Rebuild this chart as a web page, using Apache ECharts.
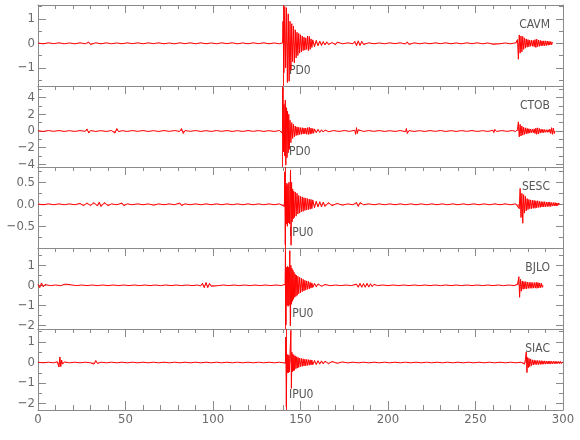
<!DOCTYPE html>
<html>
<head>
<meta charset="utf-8">
<script src="https://cdn.jsdelivr.net/npm/echarts@6/dist/echarts.min.js"></script>
<style>html,body{margin:0;padding:0;background:#fff}#c{width:580px;height:440px}</style>
</head>
<body>
<div id="c"></div>
<script>
// ---- data (time in s, amplitude) ----
const stations = ['CAVM', 'CTOB', 'SESC', 'BJLO', 'SIAC'];
const pickTimes = [140.2, 139.6, 141.0, 141.4, 141.6];
const pickLabels = ['PD0', 'PD0', 'IPU0', 'IPU0', 'IPU0'];
const xTicks = [0, 50, 100, 150, 200, 250, 300];
const yMin = [-1.743, -4.32, -0.993, -2.185, -2.31];
const yMax = [1.563, 5.4, 0.848, 1.865, 1.63];
const yMajor = [[-1, 0, 1], [-4, -2, 0, 2, 4], [-0.5, 0, 0.5], [-2, -1, 0, 1], [-2, -1, 0, 1]];
const yMinor = [[-1.5, -0.5, 0.5, 1.5], [-3, -1, 1, 3, 5], [-0.75, -0.25, 0.25, 0.75], [-1.5, -0.5, 0.5, 1.5], [-1.5, -0.5, 0.5, 1.5]];

const CAVM = [
[0,0.01],[3,-0.02],[6,0.02],[9,-0.015],[12,0.02],[15,-0.02],[18,0.015],[21,-0.02],[24,0.02],[27,-0.02],[29,0.05],[30,-0.05],[33,0.02],[36,-0.02],[39,0.02],[42,-0.02],[45,0.015],[48,-0.02],[51,0.02],[54,-0.015],[57,0.02],[60,-0.02],[63,0.02],[66,-0.015],[69,0.02],[72,-0.02],[75,0.015],[78,-0.02],[81,0.02],[84,-0.015],[87,0.02],[90,-0.02],[93,0.02],[96,-0.02],[99,0.015],[102,-0.02],[105,0.02],[108,-0.015],[111,0.02],[114,-0.02],[117,0.015],[120,-0.02],[123,0.02],[126,-0.015],[129,0.02],[132,-0.02],[135,0.015],[138,-0.02],[139.8,0.02],
[140,0.9],[140.5,-1.2],[141,1.5],[141.5,-1.0],[142,1.45],[142.5,-1.6],[143,1.2],[143.5,-1.55],[144,0.9],[144.5,-1.1],[145,0.8],[145.5,-0.75],[146,0.7],[146.5,-0.8],[147,0.55],[147.5,-0.6],[148,0.45],[148.5,-0.5],[149,0.4],[149.5,-0.4],[150,0.35],[150.5,-0.35],[151,0.3],[151.5,-0.3],[152,0.25],[152.5,-0.28],[153,0.22],[153.5,-0.25],[154,0.3],[154.5,-0.3],[155,0.28],[155.5,-0.25],[156,0.18],[156.5,-0.17],[157,0.14],[158,-0.14],[159,0.12],[160,-0.1],[161,0.09],[162,-0.09],[163,0.07],[164,-0.07],[165,0.06],[166,-0.05],
[168,0.03],[170,-0.06],[171,0.05],[174,-0.02],[177,0.02],[180,-0.02],[181,0.08],[182,-0.1],[183,0.1],[184,-0.09],[185,0.08],[186,-0.05],[189,0.02],[192,-0.02],[195,0.015],[198,-0.02],[201,0.02],[204,-0.015],[207,0.02],[210,-0.03],[211,0.06],[212,-0.05],[215,0.02],[218,-0.02],[221,0.015],[224,-0.02],[227,0.02],[230,-0.015],[233,0.02],[236,-0.02],[239,0.015],[242,-0.02],[245,0.02],[248,-0.015],[251,0.02],[254,-0.02],[257,0.015],[260,-0.04],[261,0.04],[264,-0.02],[267,0.015],[270,-0.02],[273,0.02],
[274,0.15],[274.5,-0.65],[275,0.34],[275.5,-0.4],[276,0.3],[276.5,-0.35],[277,0.28],[277.5,-0.25],[278,0.22],[278.5,-0.2],[279,0.18],[279.5,-0.16],[280,0.15],[280.5,-0.14],[281,0.13],[281.5,-0.12],[282,0.12],[282.5,-0.12],[283,0.12],[283.5,-0.14],[284,0.15],[284.5,-0.17],[285,0.17],[285.5,-0.14],[286,0.13],[286.5,-0.12],[287,0.12],[287.5,-0.11],[288,0.1],[288.5,-0.1],[289,0.1],[289.5,-0.1],[290,0.1],[290.5,-0.09],[291,0.09],[291.5,-0.08],[292,0.08],[292.5,-0.07],[293,0.07],[293.5,-0.06],[294,0.05]
];

const CTOB = [
[0,0.03],[3,-0.05],[6,0.05],[9,-0.04],[12,0.05],[15,-0.05],[18,0.04],[21,-0.05],[24,0.05],[27,-0.04],[28,0.25],[29,-0.25],[30,0.05],[33,-0.05],[36,0.04],[39,-0.05],[42,0.05],[44,-0.25],[45,0.3],[46,-0.08],[48,0.04],[51,-0.05],[54,0.05],[57,-0.04],[60,0.05],[63,-0.05],[66,0.04],[69,-0.05],[72,0.05],[75,-0.04],[78,0.05],[81,-0.05],[82,0.3],[83,-0.3],[84,0.05],[87,-0.04],[90,0.05],[93,-0.05],[96,0.04],[99,-0.05],[102,0.05],[105,-0.04],[108,0.05],[111,-0.05],[114,0.04],[117,-0.05],[120,0.05],[123,-0.04],[126,0.05],[129,-0.05],[132,0.04],[135,-0.05],[138,0.05],[139.8,-0.3],
[140,5.1],[140.3,-2.5],[140.6,3.2],[141,-3.0],[141.3,3.7],[141.6,-4.1],[142,2.8],[142.3,-3.2],[142.6,2.4],[143,-2.6],[143.3,2.0],[143.6,-2.2],[144,1.3],[144.5,-1.4],[145,1.0],[145.5,-0.9],[146,0.8],[146.5,-0.7],[147,0.6],[147.5,-0.55],[148,0.5],[148.5,-0.5],[149,0.45],[149.5,-0.42],[150,0.4],[150.5,-0.4],[151,0.4],[151.5,-0.36],[152,0.35],[152.5,-0.35],[153,0.35],[153.5,-0.38],[154,0.4],[154.5,-0.42],[155,0.45],[155.5,-0.38],[156,0.35],[156.5,-0.32],[157,0.3],[157.5,-0.27],[158,0.25],[159,-0.2],[160,0.2],[161,-0.17],[162,0.15],[163,-0.13],[164,0.12],[166,-0.08],[169,0.05],[172,-0.05],[175,0.05],[178,-0.04],[181,0.08],[181.5,-0.4],[182,0.4],[182.5,-0.3],[183,0.15],[186,-0.05],[189,0.05],[192,-0.04],[195,0.05],[198,-0.05],[201,0.04],[204,-0.05],[207,0.05],[210,-0.08],[210.5,0.3],[211,-0.3],[212,0.05],[215,-0.05],[218,0.04],[221,-0.05],[224,0.05],[227,-0.04],[230,0.05],[233,-0.05],[236,0.04],[239,-0.05],[242,0.05],[245,-0.04],[248,0.05],[251,-0.05],[254,0.04],[257,-0.05],[260,0.08],[260.5,-0.2],[261,0.2],[262,-0.05],[265,0.05],[268,-0.04],[271,0.05],[273,-0.05],
[274,0.2],[274.5,1.1],[275,-0.7],[275.5,0.8],[276,-0.6],[276.5,0.6],[277,-0.5],[277.5,0.45],[278,-0.4],[278.5,0.38],[279,-0.35],[279.5,0.32],[280,-0.3],[280.5,0.27],[281,-0.25],[281.5,0.22],[282,-0.2],[282.5,0.2],[283,-0.2],[283.5,0.25],[284,-0.3],[284.5,0.35],[285,-0.4],[285.5,0.38],[286,-0.35],[286.5,0.3],[287,-0.25],[287.5,0.22],[288,-0.2],[288.5,0.2],[289,-0.2],[289.5,0.17],[290,-0.15],[290.5,0.15],[291,-0.15],[291.5,0.15],[292,-0.15],[292.5,0.22],[293,-0.3],[293.5,0.4],[294,-0.4],[294.5,0.35],[295,-0.3],[295.5,0]
];

const SESC = [
[0,0.005],[3,-0.01],[6,0.01],[9,-0.01],[12,0.01],[15,-0.01],[18,0.01],[21,-0.01],[24,0.02],[26,-0.03],[28,0.03],[30,-0.03],[32,0.04],[34,-0.04],[35,0.05],[36,-0.05],[38,0.04],[40,-0.03],[42,0.01],[45,-0.01],[48,0.03],[49,-0.03],[51,0.01],[54,-0.01],[57,0.01],[60,-0.01],[63,0.01],[66,-0.02],[69,0.01],[72,-0.01],[75,0.01],[78,-0.01],[81,0.03],[82,-0.03],[84,0.01],[87,-0.01],[90,0.01],[93,-0.01],[96,0.01],[99,-0.01],[102,0.01],[105,-0.01],[108,0.01],[111,-0.01],[114,0.01],[117,-0.01],[120,0.01],[123,-0.01],[126,0.01],[129,-0.01],[132,0.01],[135,-0.01],[138,0.01],[140.8,-0.05],
[141,0.74],[141.3,-0.92],[141.6,0.4],[141.9,-0.45],[142.2,0.48],[142.5,-0.5],[142.8,0.45],[143.1,-0.42],[143.4,0.5],[143.8,-0.45],[144.3,0.78],[144.6,-0.93],[144.9,0.5],[145.2,-0.4],[145.5,0.35],[145.8,-0.33],[146.1,0.3],[146.5,-0.3],[147,0.28],[147.5,-0.27],[148,0.25],[148.5,-0.22],[149,0.2],[149.5,-0.2],[150,0.18],[150.5,-0.17],[151,0.17],[151.5,-0.16],[152,0.15],[152.5,-0.14],[153,0.14],[153.5,-0.13],[154,0.13],[154.5,-0.12],[155,0.12],[155.5,-0.11],[156,0.11],[156.5,-0.1],[157,0.1],[158,-0.08],[159,0.07],[160,-0.06],[161,0.06],[162,-0.06],[163,0.05],[164,-0.05],[166,0.04],[168,-0.03],[171,0.02],[174,-0.02],[177,0.01],[180,-0.01],[182,0.04],[183,-0.05],[184,0.04],[186,-0.01],[189,0.01],[192,-0.01],[195,0.01],[198,-0.01],[201,0.01],[204,-0.01],[207,0.01],[210,-0.01],[213,0.01],[216,-0.01],[219,0.01],[222,-0.01],[225,0.01],[228,-0.01],[231,0.01],[234,-0.01],[237,0.01],[240,-0.01],[243,0.01],[246,-0.01],[249,0.01],[252,-0.01],[255,0.01],[258,-0.01],[261,0.01],[264,-0.01],[267,0.01],[270,-0.01],[273,0.01],
[275,-0.1],[275.5,0.36],[276,-0.3],[276.5,0.25],[277,-0.43],[277.5,0.22],[278,-0.2],[278.5,0.18],[279,-0.15],[279.5,0.13],[280,-0.12],[280.5,0.11],[281,-0.1],[281.5,0.1],[282,-0.1],[282.5,0.09],[283,-0.09],[283.5,0.09],[284,-0.09],[284.5,0.08],[285,-0.08],[285.5,0.08],[286,-0.07],[286.5,0.07],[287,-0.07],[287.5,0.06],[288,-0.06],[288.5,0.06],[289,-0.06],[289.5,0.06],[290,-0.06],[290.5,0.05],[291,-0.05],[291.5,0.05],[292,-0.05],[292.5,0.05],[293,-0.05],[293.5,0.04],[294,-0.04],[294.5,0.04],[295,-0.04],[295.5,0.04],[296,-0.04],[296.5,0.03],[297,-0.03],[297.5,0.03],[298,0]
];

const BJLO = [
[0,0.05],[1,-0.12],[2,0.12],[3,-0.08],[4,0.04],[7,-0.015],[10,0.015],[13,-0.02],[15,0.05],[16,-0.05],[17,0.05],[18,-0.04],[19,0.02],[22,-0.015],[25,0.015],[28,-0.015],[31,0.015],[34,-0.015],[37,0.015],[40,-0.015],[43,0.015],[46,-0.015],[49,0.015],[52,-0.015],[55,0.015],[58,-0.015],[61,0.015],[64,-0.015],[67,0.015],[70,-0.015],[73,0.015],[76,-0.015],[79,0.015],[82,-0.015],[85,0.015],[88,-0.015],[91,0.015],[93,-0.03],[94,0.1],[95,-0.12],[96,0.14],[97,-0.12],[98,0.1],[99,-0.05],[100,0.015],[103,-0.015],[106,0.015],[109,-0.015],[112,0.015],[115,-0.015],[118,0.015],[121,-0.015],[124,0.015],[127,-0.015],[130,0.015],[133,-0.015],[136,0.015],[139,-0.015],[141.2,0.05],
[141.4,1.68],[141.7,-1.98],[142,0.9],[142.3,-1.0],[142.6,0.95],[142.9,-1.05],[143.2,0.9],[143.5,-1.0],[143.9,1.73],[144.2,-2.03],[144.5,1.0],[144.8,-0.95],[145.1,0.85],[145.4,-0.8],[145.7,0.75],[146,-0.7],[146.3,0.65],[146.7,-0.6],[147,0.55],[147.4,-0.55],[147.7,0.5],[148.1,-0.5],[148.5,0.45],[149,-0.42],[149.5,0.4],[150,-0.38],[150.5,0.35],[151,-0.32],[151.5,0.3],[152,-0.28],[152.5,0.25],[153,-0.24],[153.5,0.22],[154,-0.2],[154.5,0.2],[155,-0.18],[155.5,0.15],[156,-0.14],[156.5,0.12],[157,-0.11],[158,0.1],[159,-0.08],[160,0.07],[162,-0.05],[164,0.04],[167,-0.02],[170,0.015],[173,-0.015],[176,0.015],[179,-0.015],[182,0.06],[183,-0.1],[184,0.1],[185,-0.1],[186,0.09],[187,-0.1],[188,0.1],[189,-0.09],[190,0.08],[191,-0.07],[192,0.05],[194,-0.015],[197,0.015],[200,-0.015],[203,0.015],[206,-0.015],[209,0.015],[212,-0.015],[215,0.015],[218,-0.015],[221,0.015],[224,-0.015],[227,0.015],[230,-0.015],[233,0.015],[236,-0.015],[239,0.015],[242,-0.015],[245,0.015],[248,-0.015],[251,0.015],[254,-0.015],[257,0.015],[260,-0.015],[263,0.015],[266,-0.015],[269,0.015],[272,-0.015],[274,0.05],
[274.8,0.43],[275.2,-0.6],[275.7,0.3],[276.2,-0.3],[276.7,0.22],[277.2,-0.2],[277.7,0.19],[278.2,-0.18],[278.7,0.18],[279.2,-0.18],[279.7,0.16],[280.2,-0.15],[280.7,0.15],[281.2,-0.15],[281.7,0.15],[282.2,-0.15],[282.7,0.14],[283.2,-0.14],[283.7,0.13],[284.2,-0.14],[284.7,0.15],[285.2,-0.15],[285.7,0.14],[286.2,-0.13],[286.7,0.12],[287.2,-0.12],[287.7,0.1],[288.2,-0.1],[288.6,0]
];

const SIAC = [
[0,0.015],[3,-0.015],[6,0.015],[9,-0.015],[11,0.04],[12,-0.22],[12.5,0.27],[13,-0.2],[13.5,0.12],[14,-0.08],[15,0.03],[18,-0.015],[21,0.015],[24,-0.015],[27,0.015],[30,-0.015],[31,0.02],[32,-0.08],[33,0.1],[34,-0.05],[36,0.015],[39,-0.015],[42,0.015],[45,-0.015],[48,0.015],[51,-0.015],[54,0.015],[57,-0.015],[60,0.015],[63,-0.015],[66,0.015],[69,-0.015],[72,0.015],[75,-0.015],[78,0.015],[81,-0.015],[84,0.015],[87,-0.015],[90,0.015],[93,-0.015],[96,0.015],[99,-0.015],[102,0.015],[105,-0.015],[108,0.015],[111,-0.015],[114,0.015],[117,-0.015],[120,0.015],[123,-0.015],[126,0.015],[129,-0.015],[132,0.015],[135,-0.015],[138,0.015],[141.4,-0.03],
[141.6,1.24],[141.9,-2.15],[142.2,0.4],[142.5,-0.5],[142.8,0.38],[143.1,-0.5],[143.4,0.35],[143.7,-0.45],[144,0.4],[144.5,1.57],[144.8,-1.26],[145.1,0.5],[145.4,-0.45],[145.7,0.4],[146,-0.4],[146.3,0.35],[146.6,-0.38],[147,0.32],[147.4,-0.3],[147.8,0.28],[148.2,-0.27],[148.6,0.25],[149,-0.24],[149.5,0.22],[150,-0.2],[150.5,0.2],[151,-0.19],[151.5,0.18],[152,-0.17],[152.5,0.16],[153,-0.16],[153.5,0.15],[154,-0.14],[154.5,0.14],[155,-0.13],[155.5,0.13],[156,-0.12],[156.5,0.12],[157,-0.11],[158,0.1],[159,-0.1],[160,0.09],[161,-0.08],[162,0.08],[163,-0.07],[164,0.07],[166,-0.06],[168,0.05],[171,-0.04],[174,0.03],[177,-0.02],[180,0.015],[183,-0.015],[186,0.015],[189,-0.015],[192,0.015],[195,-0.015],[198,0.015],[201,-0.015],[204,0.015],[207,-0.015],[210,0.015],[213,-0.015],[216,0.015],[219,-0.015],[222,0.015],[225,-0.015],[228,0.015],[231,-0.015],[234,0.015],[237,-0.015],[240,0.015],[243,-0.015],[246,0.015],[249,-0.015],[252,0.015],[255,-0.015],[258,0.015],[261,-0.015],[264,0.015],[267,-0.015],[270,0.015],[273,-0.015],[276,0.015],
[278,-0.08],[278.5,0.15],[279,0.51],[279.4,-0.49],[279.8,0.25],[280.2,-0.25],[280.6,0.2],[281,-0.2],[281.5,0.17],[282,-0.15],[282.5,0.13],[283,-0.12],[283.5,0.11],[284,-0.1],[284.5,0.1],[285,-0.1],[285.5,0.1],[286,-0.1],[286.5,0.09],[287,-0.09],[287.5,0.09],[288,-0.09],[288.5,0.08],[289,-0.08],[289.5,0.08],[290,-0.08],[290.5,0.07],[291,-0.07],[291.5,0.07],[292,-0.07],[292.5,0.07],[293,-0.07],[293.5,0.06],[294,-0.06],[294.5,0.06],[295,-0.06],[295.5,0.06],[296,-0.06],[296.5,0.05],[297,-0.05],[297.5,0.05],[298,-0.05],[298.5,0.05],[299,-0.05],[299.5,0.04],[300,0.03]
];
const traces = [CAVM, CTOB, SESC, BJLO, SIAC];

// ---- layout / style ----
const FONT = "'Liberation Sans Narrow', 'DejaVu Sans Condensed', 'Noto Sans', sans-serif";
const AX = '#8a8a8a';
const LBL = '#6a6a6a';
const GL = 38, GR = 563, GT = 5, GH = 81;

const grids = [], xAxes = [], yAxes = [], series = [], graphics = [];
function fmt(i) {
  return function (v) {
    const s = i === 2 ? Number(v).toFixed(1) : String(Math.round(v));
    return s.replace('-', '\u2212');
  };
}
stations.forEach(function (name, i) {
  grids.push({ left: GL, width: GR - GL, top: GT + GH * i, height: GH, containLabel: false });
  const last = i === stations.length - 1;
  xAxes.push({
    gridIndex: i, type: 'value', min: 0, max: 300, interval: 50, position: 'top',
    axisLine: { show: true, onZero: false, lineStyle: { color: AX, width: 1 } },
    axisTick: { show: true, inside: true, length: 8, lineStyle: { color: AX } },
    minorTick: { show: true, splitNumber: 5, length: 4, lineStyle: { color: AX } },
    axisLabel: { show: false }, splitLine: { show: false }
  });
  xAxes.push({
    gridIndex: i, type: 'value', min: 0, max: 300, interval: 50, position: 'bottom',
    axisLine: { show: true, onZero: false, lineStyle: { color: AX, width: 1 } },
    axisTick: { show: last, inside: true, length: 9, lineStyle: { color: AX } },
    minorTick: { show: last, splitNumber: 5, length: 5, lineStyle: { color: AX } },
    axisLabel: { show: last, margin: 3, color: LBL, fontFamily: FONT, fontSize: 13,
      customValues: xTicks },
    splitLine: { show: false }
  });
  const base = { gridIndex: i, type: 'value', min: yMin[i], max: yMax[i], splitLine: { show: false } };
  yAxes.push(Object.assign({}, base, {
    position: 'left',
    axisLine: { show: true, onZero: false, lineStyle: { color: AX, width: 1 } },
    axisTick: { show: true, inside: true, length: 8, customValues: yMajor[i], lineStyle: { color: AX } },
    axisLabel: { show: true, margin: 3, color: LBL, fontFamily: FONT, fontSize: 13,
      customValues: yMajor[i], formatter: fmt(i) }
  }));
  yAxes.push(Object.assign({}, base, {
    position: 'left',
    axisLine: { show: false, onZero: false },
    axisTick: { show: true, inside: true, length: 4, customValues: yMinor[i], lineStyle: { color: AX } },
    axisLabel: { show: false }
  }));
  yAxes.push(Object.assign({}, base, {
    position: 'right',
    axisLine: { show: true, onZero: false, lineStyle: { color: AX, width: 1 } },
    axisTick: { show: true, inside: true, length: 7, customValues: yMajor[i], lineStyle: { color: AX } },
    axisLabel: { show: false }
  }));
  yAxes.push(Object.assign({}, base, {
    position: 'right',
    axisLine: { show: false, onZero: false },
    axisTick: { show: true, inside: true, length: 4, customValues: yMinor[i], lineStyle: { color: AX } },
    axisLabel: { show: false }
  }));
  const tr = traces[i];
  series.push({
    type: 'line', xAxisIndex: 2 * i + 1, yAxisIndex: 4 * i,
    data: tr, showSymbol: false, silent: true, sampling: null, z: 2,
    lineStyle: { color: '#ff0000', width: 1 },
    areaStyle: { color: '#ff0000', opacity: 0.55, origin: 0 },
    markLine: {
      silent: true, symbol: ['none', 'none'], animation: false,
      label: { show: false },
      lineStyle: { color: '#ff0000', width: 1, type: 'solid', opacity: 0.9 },
      data: [{ xAxis: pickTimes[i] }]
    }
  });
  graphics.push({
    type: 'text', x: 550, y: GT + GH * i + 20, silent: true,
    style: { text: name, align: 'right', verticalAlign: 'middle', textAlign: 'right', textVerticalAlign: 'middle',
      fill: '#555', font: '12px ' + FONT }
  });
  graphics.push({
    type: 'text', x: 289, y: GT + GH * i + 66, silent: true,
    style: { text: pickLabels[i], align: 'left', verticalAlign: 'middle', textAlign: 'left', textVerticalAlign: 'middle',
      fill: '#555', font: '12px ' + FONT }
  });
});

const chart = echarts.init(document.getElementById('c'), null, { renderer: 'canvas' });
chart.setOption({
  animation: false,
  backgroundColor: '#fff',
  grid: grids,
  xAxis: xAxes,
  yAxis: yAxes,
  series: series,
  graphic: graphics
});
</script>
</body>
</html>
